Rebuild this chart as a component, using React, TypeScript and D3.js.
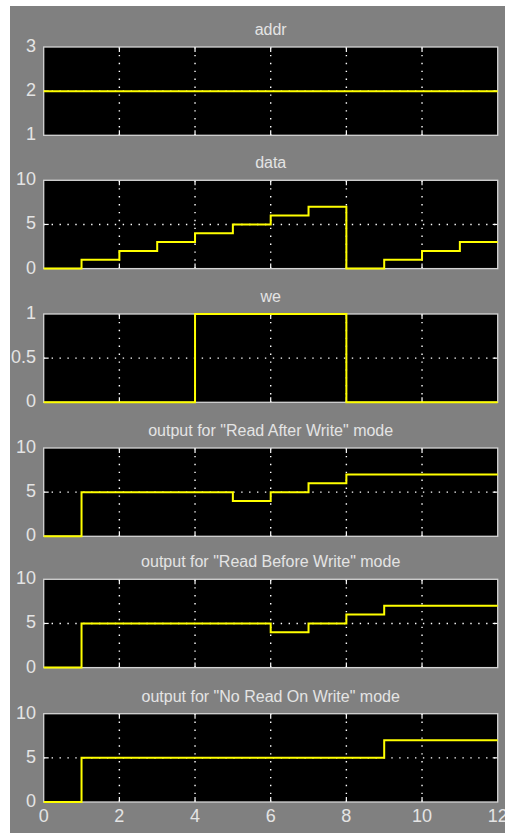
import React from "react";
import * as d3 from "d3";

const timeTicks = [0, 2, 4, 6, 8, 10, 12];
const stepTimes = [0, 1, 2, 3, 4, 5, 6, 7, 8, 9, 10, 11, 12];

const titles = [
  "addr",
  "data",
  "we",
  'output for "Read After Write" mode',
  'output for "Read Before Write" mode',
  'output for "No Read On Write" mode',
];

// values per unit interval [t, t+1)
const addrValues = [2, 2, 2, 2, 2, 2, 2, 2, 2, 2, 2, 2];
const dataValues = [0, 1, 2, 3, 4, 5, 6, 7, 0, 1, 2, 3];
const weValues = [0, 0, 0, 0, 1, 1, 1, 1, 0, 0, 0, 0];
const rawValues = [0, 5, 5, 5, 5, 4, 5, 6, 7, 7, 7, 7];
const rbwValues = [0, 5, 5, 5, 5, 5, 4, 5, 6, 7, 7, 7];
const nrwValues = [0, 5, 5, 5, 5, 5, 5, 5, 5, 7, 7, 7];

const seriesList = [addrValues, dataValues, weValues, rawValues, rbwValues, nrwValues];
const yDomains: [number, number][] = [[1, 3], [0, 10], [0, 1], [0, 10], [0, 10], [0, 10]];
const yTickSets = [[1, 2, 3], [0, 5, 10], [0, 0.5, 1], [0, 5, 10], [0, 5, 10], [0, 5, 10]];

const W = 505;
const H = 833;
const plotLeft = 43.7;
const plotRight = 497.7;
const panelTops = [47, 180.3, 314, 448, 579.3, 713.7];
const panelH = 88.3;
const textColor = "#e4e4e4";
const frameColor = "#d4d4d4";
const font = "Liberation Sans, Arial, sans-serif";

function Panel({ idx }: { idx: number }) {
  const top = panelTops[idx];
  const x = d3.scaleLinear().domain([0, 12]).range([plotLeft, plotRight]);
  const y = d3.scaleLinear().domain(yDomains[idx]).range([top + panelH, top]);
  const vals = seriesList[idx];
  const pts: [number, number][] = stepTimes.map((t, i) => [t, vals[Math.min(i, vals.length - 1)]]);
  const line = d3
    .line<[number, number]>()
    .x((d) => x(d[0]))
    .y((d) => y(d[1]))
    .curve(d3.curveStepAfter);
  const yTicks = yTickSets[idx];
  const midTicks = yTicks.slice(1, -1);
  const innerX = timeTicks.slice(1, -1);
  const isLast = idx === panelTops.length - 1;
  return (
    <g>
      <rect x={plotLeft} y={top} width={plotRight - plotLeft} height={panelH} fill="#000" />
      {innerX.map((t) => (
        <g key={"vx" + t}>
          <line x1={x(t)} x2={x(t)} y1={top} y2={top + panelH} stroke="#fff" strokeWidth={1.4} strokeDasharray="1.4,6.5" />
          <line x1={x(t)} x2={x(t)} y1={top} y2={top + 5} stroke="#fff" strokeWidth={1.2} />
          <line x1={x(t)} x2={x(t)} y1={top + panelH - 5} y2={top + panelH} stroke="#fff" strokeWidth={1.2} />
        </g>
      ))}
      {midTicks.map((v) => (
        <g key={"hy" + v}>
          <line x1={plotLeft} x2={plotRight} y1={y(v)} y2={y(v)} stroke="#fff" strokeWidth={1.4} strokeDasharray="1.4,6.5" />
          <line x1={plotLeft} x2={plotLeft + 5} y1={y(v)} y2={y(v)} stroke="#fff" strokeWidth={1.2} />
          <line x1={plotRight - 5} x2={plotRight} y1={y(v)} y2={y(v)} stroke="#fff" strokeWidth={1.2} />
        </g>
      ))}
      <rect
        x={plotLeft}
        y={top}
        width={plotRight - plotLeft}
        height={panelH}
        fill="none"
        stroke={frameColor}
        strokeWidth={1.3}
      />
      <path d={line(pts) || ""} fill="none" stroke="#ffff00" strokeWidth={2} />
      <text
        x={(plotLeft + plotRight) / 2}
        y={top - 12}
        textAnchor="middle"
        fill={textColor}
        fontSize={16}
        fontFamily={font}
      >
        {titles[idx]}
      </text>
      {yTicks.map((v) => (
        <text
          key={"yl" + v}
          x={36}
          y={y(v) - 1.5}
          dy="0.36em"
          textAnchor="end"
          fill={textColor}
          fontSize={18}
          fontFamily={font}
        >
          {String(v)}
        </text>
      ))}
      {isLast &&
        timeTicks.map((t) => (
          <text
            key={"xl" + t}
            x={x(t)}
            y={822}
            textAnchor="middle"
            fill={textColor}
            fontSize={18}
            fontFamily={font}
          >
            {String(t)}
          </text>
        ))}
    </g>
  );
}

export default function App() {
  return (
    <svg
      width={W}
      height={H}
      style={{ position: "absolute", left: 0, top: 0, display: "block", background: "#fff" }}
    >
      <rect x={10} y={6} width={W - 10} height={H - 6} fill="#808080" />
      {panelTops.map((_, i) => (
        <Panel key={i} idx={i} />
      ))}
    </svg>
  );
}
